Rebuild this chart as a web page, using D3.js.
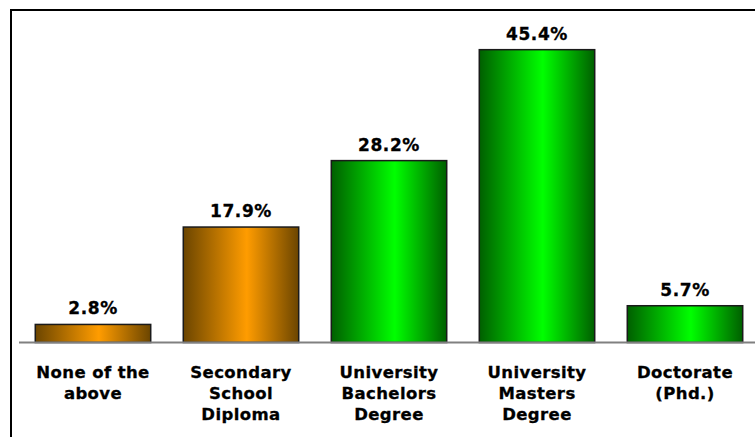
<!DOCTYPE html>
<html>
<head>
<meta charset="utf-8">
<script src="https://cdn.jsdelivr.net/npm/d3@7/dist/d3.min.js"></script>
<style>
  html, body { margin: 0; padding: 0; background: #fff; }
  svg { display: block; }
  text { font-family: "DejaVu Sans", Verdana, sans-serif; font-weight: bold; fill: #000; stroke: #000; stroke-width: 0.3; }
</style>
</head>
<body>
<svg id="chart" width="755" height="437"></svg>
<script>
// Education level shares
const categories = [
  ["None of the", "above"],
  ["Secondary", "School", "Diploma"],
  ["University", "Bachelors", "Degree"],
  ["University", "Masters", "Degree"],
  ["Doctorate", "(Phd.)"]
];
const values = [2.8, 17.9, 28.2, 45.4, 5.7];
const groups = ["orange", "orange", "green", "green", "green"];

const svg = d3.select("#chart");
const W = 755, H = 437;

// outer frame
svg.append("rect")
  .attr("x", 11).attr("y", 10)
  .attr("width", W + 10).attr("height", H + 10)
  .attr("fill", "none").attr("stroke", "#000").attr("stroke-width", 2);

// horizontal gradients: dark edges, bright centre
const defs = svg.append("defs");
const palettes = {
  orange: { edge: "#6b4500", mid: "#ff9c00" },
  green:  { edge: "#005f00", mid: "#00ff00" }
};
Object.entries(palettes).forEach(([key, p]) => {
  const g = defs.append("linearGradient").attr("id", "grad-" + key)
    .attr("x1", "0%").attr("x2", "100%").attr("y1", "0%").attr("y2", "0%");
  g.append("stop").attr("offset", "0%").attr("stop-color", p.edge);
  g.append("stop").attr("offset", "55%").attr("stop-color", p.mid);
  g.append("stop").attr("offset", "100%").attr("stop-color", p.edge);
});

const baseY = 342.5;
const x = d3.scaleBand()
  .domain(d3.range(values.length))
  .range([19, 759])
  .paddingInner(0.22)
  .paddingOuter(0.11);
const y = d3.scaleLinear().domain([0, 50]).range([baseY, baseY - 322.5]);

// bars
svg.selectAll("rect.bar")
  .data(values)
  .join("rect")
  .attr("class", "bar")
  .attr("x", (d, i) => x(i))
  .attr("y", d => y(d))
  .attr("width", x.bandwidth())
  .attr("height", d => y(0) - y(d))
  .attr("fill", (d, i) => `url(#grad-${groups[i]})`)
  .attr("stroke", "#1a1a1a")
  .attr("stroke-width", 1.5);

// category axis line
svg.append("line")
  .attr("x1", 19).attr("x2", W)
  .attr("y1", baseY).attr("y2", baseY)
  .attr("stroke", "#808080").attr("stroke-width", 2);

// value labels
svg.selectAll("text.val")
  .data(values)
  .join("text")
  .attr("class", "val")
  .attr("x", (d, i) => x(i) + x.bandwidth() / 2)
  .attr("y", d => y(d) - 10)
  .attr("text-anchor", "middle")
  .attr("font-size", 17)
  .attr("letter-spacing", 0.6)
  .text(d => d.toFixed(1) + "%");

// category labels
const cat = svg.selectAll("text.cat")
  .data(categories)
  .join("text")
  .attr("class", "cat")
  .attr("text-anchor", "middle")
  .attr("font-size", 16.5)
  .attr("letter-spacing", 0.4)
  .attr("x", (d, i) => x(i) + x.bandwidth() / 2);
cat.selectAll("tspan")
  .data(d => d)
  .join("tspan")
  .attr("x", function () { return d3.select(this.parentNode).attr("x"); })
  .attr("y", (d, j) => 377.5 + j * 21)
  .text(d => d);
</script>
</body>
</html>
